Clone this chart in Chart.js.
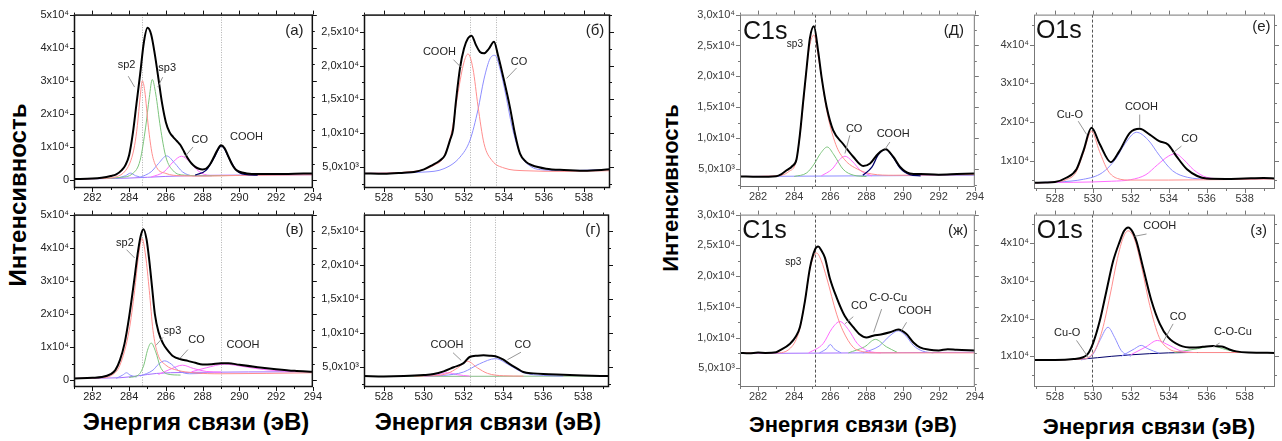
<!DOCTYPE html>
<html><head><meta charset="utf-8">
<script src="https://cdn.jsdelivr.net/npm/chart.js@4.4.1/dist/chart.umd.min.js"></script>
<style>
body{margin:0;background:#fff;width:1282px;height:441px;position:relative;overflow:hidden;font-family:"Liberation Sans",Arial,sans-serif}
canvas{position:absolute}
.lab{position:absolute;font-weight:bold;white-space:nowrap;color:#000;line-height:1}
</style></head><body>
<div class="lab" style="left:18px;top:195px;font-size:24px;transform:translate(-50%,-50%) rotate(-90deg)">Интенсивность</div>
<div class="lab" style="left:671px;top:188px;font-size:22px;transform:translate(-50%,-50%) rotate(-90deg)">Интенсивность</div>
<div class="lab" style="left:196px;top:410px;font-size:24px;transform:translateX(-50%)">Энергия связи (эВ)</div>
<div class="lab" style="left:488px;top:410px;font-size:24px;transform:translateX(-50%)">Энергия связи (эВ)</div>
<div class="lab" style="left:853px;top:414px;font-size:22px;transform:translateX(-50%)">Энергия связи (эВ)</div>
<div class="lab" style="left:1149px;top:416px;font-size:22.5px;transform:translateX(-50%)">Энергия связи (эВ)</div>
<script>
// ---------- tick values / labels ----------
const xTicksC = [282,284,286,288,290,292,294];
const xTicksO = [528,530,532,534,536,538];
const yTicksA = [0,10000,20000,30000,40000,50000];
const yLabelsA = ['0','1x10⁴','2x10⁴','3x10⁴','4x10⁴','5x10⁴'];
const yTicksB = [5000,10000,15000,20000,25000];
const yLabelsB = ['5,0x10³','1,0x10⁴','1,5x10⁴','2,0x10⁴','2,5x10⁴'];
const yTicksD = [5000,10000,15000,20000,25000,30000];
const yLabelsD = ['5,0x10³','1,0x10⁴','1,5x10⁴','2,0x10⁴','2,5x10⁴','3,0x10⁴'];
const yTicksE = [10000,20000,30000,40000];
const yLabelsE = ['1x10⁴','2x10⁴','3x10⁴','4x10⁴'];

// ---------- panel (а) C1s ----------
const aTotal = [[281,300],[282,450],[282.5,700],[283,1200],[283.3,1700],[283.6,3000],[283.8,4500],[284,7500],[284.2,14000],[284.4,23000],[284.6,32000],[284.8,41500],[285,46000],[285.2,44000],[285.4,38000],[285.6,30500],[285.8,23000],[286,17500],[286.2,14500],[286.4,13000],[286.6,11800],[286.8,10500],[287,8500],[287.2,6500],[287.4,5000],[287.6,4000],[287.8,3400],[288,3200],[288.2,3500],[288.4,4700],[288.6,6800],[288.8,9000],[289,10500],[289.2,9600],[289.4,7200],[289.6,4800],[289.8,3200],[290,2500],[290.4,2000],[291,1800],[292,1800],[293,1900],[294,2000]];
const aSp2 = [[281,300],[282.5,500],[283.3,1000],[283.8,2800],[284.1,6000],[284.3,10500],[284.45,16500],[284.6,25000],[284.72,30000],[284.85,27000],[285.05,16000],[285.25,8000],[285.5,3800],[286,2000],[286.8,1300],[288,1200],[290,1400],[294,1600]];
const aSp3 = [[282,400],[283.5,800],[284.2,2000],[284.6,6000],[284.9,16000],[285.1,25000],[285.26,30400],[285.45,26000],[285.7,16000],[286,7000],[286.4,2800],[287,1500],[288,1300],[290,1400]];
const aBlue = [[284.6,800],[285.2,2500],[285.6,5000],[286.04,7300],[286.5,5000],[286.9,2500],[287.5,1300],[288.5,1300]];
const aMag = [[285.2,900],[285.9,2500],[286.4,5500],[286.85,7200],[287.3,5500],[287.8,2600],[288.4,1400],[289.5,1400]];
const aSmall = [[283.3,500],[283.8,1300],[284.08,2100],[284.35,1300],[284.8,700]];
const aCOOH = [[287.6,1500],[288.2,3000],[288.6,6500],[289.03,10300],[289.45,6500],[289.8,3200],[290.3,1700],[291,1500]];
const aBase = [[281,300],[284,600],[286,1100],[288,1400],[294,1600]];

// ---------- panel (в) C1s ----------
const bTotal = [[281,500],[282,700],[282.5,900],[283,1800],[283.25,3000],[283.5,6000],[283.75,11000],[284,19000],[284.25,29000],[284.5,39500],[284.65,44000],[284.78,45600],[284.95,42500],[285.1,36000],[285.25,28000],[285.4,20000],[285.6,14500],[285.85,11000],[286.1,9000],[286.4,7200],[286.8,6300],[287.2,5800],[287.6,5200],[288,4700],[288.5,4800],[289,5100],[289.4,5100],[290,4600],[291,3900],[292,3300],[293,2800],[294,2500]];
const bSp2 = [[281,500],[282.5,700],[283,1300],[283.5,4500],[284,15000],[284.3,27000],[284.5,37000],[284.7,42800],[284.9,37500],[285.1,27000],[285.3,15000],[285.55,8000],[286,4500],[286.6,3000],[287.5,2200],[289,1900],[294,2200]];
const bSp3 = [[284,800],[284.5,1500],[284.8,4500],[285,9000],[285.2,11200],[285.45,8500],[285.7,4000],[286.1,1800],[286.8,1500]];
const bBlue = [[284.6,1200],[285.3,3000],[285.6,4800],[285.93,5800],[286.3,4800],[286.7,2800],[287.3,1900],[288,2000]];
const bSmall = [[283.3,500],[283.65,1500],[283.86,2200],[284.05,1500],[284.4,900]];
const bMag = [[285.6,1700],[286.3,3400],[286.9,4500],[287.5,3500],[288.2,2600],[289,2400]];
const bCOOH = [[287.4,2500],[288.2,3700],[289.2,4800],[290.2,4100],[291.3,3200],[292.5,2700],[294,2500]];
const bBase = [[281,500],[283.5,700],[284.5,1300],[285.5,2000],[287,2300],[294,2500]];

// ---------- panel (б) O1s ----------
const cTotal = [[527,4100],[528,4050],[529,4200],[529.5,4300],[530,4700],[530.4,5300],[530.8,6000],[531.05,6800],[531.3,9000],[531.45,10500],[531.6,14800],[531.8,19600],[532,22500],[532.2,24000],[532.38,24400],[532.6,23000],[532.8,22000],[533,21800],[533.25,22500],[533.5,23500],[533.7,21500],[533.97,18200],[534.3,13800],[534.55,9900],[534.8,7000],[535.1,5800],[535.4,5300],[536.1,4800],[537,4600],[538,4500],[539.3,4700]];
const cCOOH = [[527,4100],[529.5,4400],[530.5,5300],[531,6600],[531.4,10500],[531.7,16000],[532,20500],[532.2,21700],[532.45,19500],[532.7,14000],[533,8500],[533.4,6000],[534,4900],[535,4500],[537,4400],[539.3,4500]];
const cCO = [[527,4100],[530,4300],[531,4800],[531.8,6500],[532.3,9000],[532.7,13500],[533,18000],[533.3,21000],[533.55,21500],[533.8,19500],[534.1,15500],[534.4,11000],[534.8,7000],[535.3,5200],[536,4600],[537,4500],[539.3,4700]];

// ---------- panel (г) O1s ----------
const dTotal = [[527,3700],[528,3650],[529,3700],[530,3850],[530.5,4000],[531,4400],[531.5,5000],[532,5600],[532.3,6500],[532.7,6700],[533,6750],[533.3,6700],[533.6,6600],[534,6100],[534.3,5500],[534.7,4800],[535,4300],[535.5,4100],[536,4000],[537,3900],[538,3800],[539.3,3700]];
const dCOOH = [[529.5,3700],[530.5,3750],[531.2,4100],[531.7,4900],[532.2,5870],[532.7,4900],[533.2,4100],[534,3750],[535,3700]];
const dCO = [[530,3700],[531,3800],[532,4300],[532.8,5500],[533.6,6260],[534.3,5300],[535,4200],[536,3800],[537,3700]];
const dMag = [[530,3700],[530.7,3900],[531.2,4200],[531.7,3900],[532.3,3700]];
const dBase = [[527,3650],[539.3,3700]];

// ---------- panel (Д) C1s ----------
const eTotal = [[281,3800],[282,3750],[283,3850],[283.3,4200],[283.58,4800],[283.9,5500],[284.13,6600],[284.32,10700],[284.5,16000],[284.69,21400],[284.87,26200],[285.09,28100],[285.33,24000],[285.52,19800],[285.8,15000],[286.16,11250],[286.7,9100],[287.27,7000],[287.82,5500],[288.2,5900],[288.65,7500],[289.07,8200],[289.48,7000],[289.85,5400],[290.4,4300],[291,4200],[292,4100],[293,4200],[294,4300]];
const eSp3 = [[281,3800],[283,3900],[283.7,4600],[284.1,6200],[284.3,10000],[284.5,15500],[284.8,24000],[285.09,26700],[285.4,22000],[285.8,14500],[286.3,9000],[286.8,6500],[287.5,5000],[288.3,4200],[289.5,4000],[294,4100]];
const eGreen = [[284,3800],[284.7,4400],[285.1,5800],[285.45,7500],[285.83,8570],[286.2,7300],[286.7,5000],[287.3,4000],[288,3800]];
const eCO = [[285.5,3900],[286.1,5000],[286.5,6500],[286.81,7080],[287.2,6300],[287.7,4700],[288.3,3900]];
const eCOOH = [[287.8,4000],[288.3,5300],[288.65,7300],[289.07,8200],[289.48,6900],[289.85,5200],[290.4,4100],[291,3900]];
const eBase = [[281,3800],[294,4000]];

// ---------- panel (ж) C1s ----------
const fTotal = [[281,7500],[281.5,7450],[282,7550],[282.4,7500],[283,7600],[283.2,7900],[283.77,9000],[284.1,10200],[284.32,11700],[284.6,16000],[284.87,21300],[285.15,24300],[285.33,24800],[285.5,24200],[285.7,23000],[285.97,19700],[286.35,16500],[286.8,13500],[287.27,11700],[287.64,10500],[288,10000],[288.37,10300],[288.8,10500],[289.3,10850],[289.76,11300],[290.2,10600],[290.6,9200],[290.96,8400],[291.5,8000],[292,7900],[292.5,8100],[293,8000],[294,7900]];
const fSp3 = [[281,7500],[283,7500],[283.8,8300],[284.3,11300],[284.6,16000],[284.9,21500],[285.24,23750],[285.5,22500],[285.8,19700],[286.35,13800],[286.7,11100],[287.27,8400],[287.8,7700],[288.5,7500],[294,7500]];
const fSmall = [[285.4,7500],[285.8,8200],[286,8870],[286.2,8200],[286.6,7500]];
const fCO = [[284.8,7500],[285.6,9000],[286.1,11500],[286.53,12600],[287,11300],[287.5,9000],[288.1,7800],[288.8,7500]];
const fCOCu = [[287,7500],[287.9,8500],[288.5,9700],[289.1,8500],[289.7,7600]];
const fCOOH = [[287.8,7500],[288.7,8600],[289.3,10300],[289.76,11100],[290.2,10200],[290.6,8700],[291.1,7800],[291.7,7500]];
const fBase = [[281,7400],[294,7600]];

// ---------- panel (е) O1s ----------
const gTotal = [[526.9,4400],[527.5,4450],[528,4600],[528.6,5700],[529.14,7900],[529.5,12560],[529.93,18540],[530.37,14300],[530.95,9700],[531.4,12560],[531.95,17260],[532.47,18280],[533,16800],[533.5,15100],[533.96,14280],[534.4,11280],[534.96,7870],[535.5,6150],[536,5500],[537,5400],[538,5500],[539,5600],[539.6,5500]];
const gCuO = [[526.9,4400],[528,4600],[528.6,5200],[529.1,7000],[529.5,12000],[529.93,17700],[530.35,12500],[530.8,7500],[531.3,5500],[532,5100],[534,5100],[539.6,5400]];
const gCOOH = [[526.9,4400],[529.5,5300],[530.5,7000],[531.2,10500],[531.7,14500],[532.3,17400],[532.9,15500],[533.5,11500],[534.2,7500],[535,5800],[536,5400],[539.6,5500]];
const gCO = [[527,4400],[531,4800],[532,5200],[532.8,6500],[533.4,9000],[534,11300],[534.35,11870],[534.8,10300],[535.3,7800],[536,5800],[537,5400],[539.6,5500]];

// ---------- panel (з) O1s ----------
const hTotal = [[526.9,9000],[528,9000],[529,9300],[529.67,10260],[530,13300],[530.37,19470],[530.72,27400],[531.07,35260],[531.42,40500],[531.65,43300],[531.86,44200],[532.1,43000],[532.3,40500],[532.65,33500],[533.09,24740],[533.53,18600],[533.96,15080],[534.58,12900],[535.3,12300],[535.8,12500],[536.33,12700],[536.8,12600],[537.2,11800],[537.56,11300],[538.2,11000],[539.6,10900]];
const hCOOH = [[526.9,9000],[529.5,9300],[530.1,11500],[530.5,17000],[530.9,26000],[531.3,36000],[531.6,41500],[531.86,43300],[532.2,41000],[532.6,33000],[533,23500],[533.5,15000],[534,12000],[534.5,11200],[535.5,11000],[539.6,11000]];
const hCuO = [[529.4,9000],[530,10500],[530.4,14500],[530.8,17700],[531.15,15000],[531.5,11500],[532,10000]];
const hBlue2 = [[531.5,10000],[532.2,12000],[532.55,12900],[532.9,12000],[533.5,10800]];
const hCO = [[532,10400],[532.8,12500],[533.4,14200],[533.9,13200],[534.6,11500],[535.3,11000]];
const hCOCu = [[534.3,11000],[535.5,12000],[536.3,12700],[537,11800],[537.8,11000]];
const hBase = [[526.9,9000],[529.5,9300],[531,10000],[533,10700],[535,11000],[539.6,11000]];

// ---------- styles ----------
const COL = {black:'#000000', red:'#ff8e8e', green:'#7cc47c', blue:'#8e8eff', mag:'#ff6cff', navy:'#00006a', base:'#a46eff', green2:'#88bb88'};
const FONT = '"Liberation Sans", Arial, sans-serif';

const panels = [
 {box:[74,13,313,188], x:[281,294], y:[-2400,50000], xt:xTicksC, yt:yTicksA, yl:yLabelsA, yMinor:5000, left:true,
  series:[[aTotal,'black',2],[aCOOH,'navy',1.3],[aSp2,'red',1],[aSp3,'green',1],[aBlue,'blue',1],[aMag,'mag',1],[aSmall,'blue',1],[aBase,'base',1]],
  vlines:[284.7,289.0],
  notes:[{t:'sp2',x:283.86,y:34700,from:[283.95,31400],to:[284.3,28100]},{t:'sp3',x:286.07,y:33900,from:[285.83,31100],to:[285.56,28100]},
         {t:'CO',x:287.85,y:12200,from:[287.48,10000],to:[287.03,7000]},{t:'COOH',x:290.39,y:13000},{t:'(а)',x:293.0,y:45200,s:15}]},
 {box:[74,213,313,387], x:[281,294], y:[-2100,50000], xt:xTicksC, yt:yTicksA, yl:yLabelsA, yMinor:5000, left:true,
  series:[[bTotal,'black',2],[bSp2,'red',1],[bSp3,'green',1],[bBlue,'blue',1],[bSmall,'blue',1],[bMag,'mag',1],[bCOOH,'mag',1],[bBase,'base',1]],
  vlines:[284.7,289.0],
  notes:[{t:'sp2',x:283.77,y:41300,from:[283.86,39400],to:[284.3,36900]},{t:'sp3',x:286.36,y:14700,from:[285.85,12900],to:[285.46,10500]},
         {t:'CO',x:287.67,y:12000,from:[287.2,9200],to:[286.76,6500]},{t:'COOH',x:290.2,y:10500},{t:'(в)',x:293.0,y:45300,s:15}]},
 {box:[364,13,610,188], x:[527,539.3], y:[1950,27500], xt:xTicksO, yt:yTicksB, yl:yLabelsB, yMinor:2500, left:true,
  series:[[cTotal,'black',2],[cCOOH,'red',1],[cCO,'blue',1]],
  vlines:[532.3,533.6],
  notes:[{t:'COOH',x:530.77,y:21930,from:[531.47,20870],to:[531.88,19640]},{t:'CO',x:534.75,y:20470,from:[534.63,19640],to:[534.13,18100]},{t:'(б)',x:538.55,y:25100,s:15}]},
 {box:[364,213,609,387], x:[527,539.3], y:[2100,27400], xt:xTicksO, yt:yTicksB, yl:yLabelsB, yMinor:2500, left:true,
  series:[[dTotal,'black',2],[dCOOH,'red',1],[dCO,'blue',1],[dMag,'mag',1],[dBase,'green2',1]],
  vlines:[532.3,533.6],
  notes:[{t:'COOH',x:531.17,y:8330,from:[531.47,7130],to:[531.88,6000]},{t:'CO',x:534.97,y:8330,from:[534.88,7200],to:[534.2,6100]},{t:'(г)',x:538.5,y:25100,s:15}]},
 {box:[740,13,975,187], x:[281,294], y:[2100,30000], xt:xTicksC, yt:yTicksD, yl:yLabelsD, yMinor:2500, left:false,
  series:[[eTotal,'black',2],[eCOOH,'navy',1.3],[eSp3,'red',1],[eGreen,'green',1],[eCO,'mag',1],[eBase,'blue',1]],
  vlines:[285.15],
  notes:[{t:'C1s',x:281.17,y:26000,s:25,al:'left',bl:'alphabetic',c:'#111'},{t:'sp3',x:284.04,y:25140,s:10},{t:'(Д)',x:292.84,y:27390,s:15},
         {t:'CO',x:287.32,y:11520,from:[287.08,10450],to:[286.81,7520]},{t:'COOH',x:289.48,y:10610,from:[289.3,9380],to:[289.02,8200]}]},
 {box:[740,213,975,387], x:[281,294], y:[1950,30000], xt:xTicksC, yt:yTicksD, yl:yLabelsD, yMinor:2500, left:false,
  series:[[fTotal,'black',2],[fSp3,'red',1],[fSmall,'blue',1],[fCO,'mag',1],[fCOCu,'green',1],[fCOOH,'blue',1],[fBase,'base',1]],
  vlines:[285.15],
  notes:[{t:'C1s',x:281.12,y:26180,s:25,al:'left',bl:'alphabetic',c:'#111'},{t:'sp3',x:283.95,y:22260,s:10},{t:'(ж)',x:293.07,y:27370,s:15},
         {t:'CO',x:287.6,y:15160,from:[287.27,13390],to:[286.8,12200]},{t:'C-O-Cu',x:289.2,y:16400,from:[288.84,14630],to:[288.4,10850]},
         {t:'COOH',x:290.68,y:14240,from:[290.22,12470],to:[289.94,11130]}]},
 {box:[1034,13,1275,189], x:[526.9,539.6], y:[2800,47700], xt:xTicksO, yt:yTicksE, yl:yLabelsE, yMinor:5000, left:false,
  series:[[gTotal,'black',2],[gCuO,'red',1],[gCOOH,'blue',1],[gCO,'mag',1]],
  vlines:[529.95],
  notes:[{t:'O1s',x:527.0,y:41600,s:25,al:'left',bl:'alphabetic',c:'#111'},{t:'(е)',x:538.88,y:44600,s:15},
         {t:'Cu-O',x:528.79,y:21970,from:[529.23,20260],to:[529.67,16850]},{t:'COOH',x:532.56,y:23850,from:[532.47,21970],to:[532.47,18540]},
         {t:'CO',x:535.1,y:15560,from:[534.67,13850],to:[534.23,12130]}]},
 {box:[1034,213,1275,387], x:[526.9,539.6], y:[1850,47600], xt:xTicksO, yt:yTicksE, yl:yLabelsE, yMinor:5000, left:false,
  series:[[hTotal,'black',2],[hCOOH,'red',1],[hCuO,'blue',1],[hBlue2,'blue',1],[hCO,'mag',1],[hCOCu,'green',1],[hBase,'navy',1]],
  vlines:[529.95],
  notes:[{t:'O1s',x:527.05,y:41400,s:25,al:'left',bl:'alphabetic',c:'#111'},{t:'(з)',x:538.74,y:43340,s:15},
         {t:'COOH',x:533.53,y:44470,from:[532.83,42450],to:[532.2,41840]},{t:'Cu-O',x:528.65,y:16130,from:[529.14,14210],to:[529.75,9800]},
         {t:'CO',x:534.49,y:20530,from:[534.23,18600],to:[533.7,13760]},{t:'C-O-Cu',x:537.38,y:16400,from:[536.68,13500],to:[536.33,12450]}]}
];

const PADL = 72, PADT = 10, PADR = 12, PADB = 22;

function makeDeco(p) {
  return {
    id: 'deco',
    beforeDatasetsDraw(chart) {
      const {ctx, chartArea: ca, scales: {x}} = chart;
      ctx.save();
      ctx.beginPath(); ctx.rect(ca.left, ca.top, ca.right - ca.left, ca.bottom - ca.top); ctx.clip();
      ctx.strokeStyle = p.left ? '#b0b0b0' : '#555';
      ctx.setLineDash(p.left ? [1, 1.5] : [3, 2]);
      ctx.lineWidth = 1;
      p.vlines.forEach(v => {
        const px = Math.round(x.getPixelForValue(v)) + 0.5;
        ctx.beginPath(); ctx.moveTo(px, ca.top); ctx.lineTo(px, ca.bottom); ctx.stroke();
      });
      ctx.restore();
    },
    afterDraw(chart) {
      const {ctx, chartArea: ca, scales: {x, y}} = chart;
      ctx.save();
      ctx.setLineDash([]);
      ctx.strokeStyle = p.left ? '#111' : '#777';
      ctx.lineWidth = p.left ? 1.5 : 1;
      ctx.strokeRect(ca.left + 0.5, ca.top + 0.5, ca.right - ca.left - 1, ca.bottom - ca.top - 1);
      ctx.lineWidth = 1;
      for (let v = Math.ceil(p.x[0]); v <= p.x[1] + 1e-9; v += 1) {
        const L = p.xt.includes(v) ? 4 : 2;
        const px = Math.round(x.getPixelForValue(v)) + 0.5;
        ctx.beginPath();
        ctx.moveTo(px, ca.bottom); ctx.lineTo(px, ca.bottom + L);
        ctx.moveTo(px, ca.top); ctx.lineTo(px, ca.top - L);
        ctx.stroke();
      }
      for (let v = Math.ceil(p.y[0] / p.yMinor) * p.yMinor; v <= p.y[1] + 1e-9; v += p.yMinor) {
        const L = p.yt.includes(v) ? 4 : 2;
        const py = Math.round(y.getPixelForValue(v)) + 0.5;
        ctx.beginPath();
        ctx.moveTo(ca.left, py); ctx.lineTo(ca.left - L, py);
        ctx.moveTo(ca.right, py); ctx.lineTo(ca.right + L, py);
        ctx.stroke();
      }
      p.notes.forEach(n => {
        if (n.from) {
          ctx.strokeStyle = '#8a8a8a'; ctx.lineWidth = 0.9;
          ctx.beginPath();
          ctx.moveTo(x.getPixelForValue(n.from[0]), y.getPixelForValue(n.from[1]));
          ctx.lineTo(x.getPixelForValue(n.to[0]), y.getPixelForValue(n.to[1]));
          ctx.stroke();
        }
        ctx.font = (n.s || 11) + 'px ' + FONT;
        ctx.textAlign = n.al || 'center';
        ctx.textBaseline = n.bl || 'middle';
        ctx.fillStyle = n.c || '#222';
        ctx.fillText(n.t, x.getPixelForValue(n.x), y.getPixelForValue(n.y));
      });
      ctx.restore();
    }
  };
}

panels.forEach(p => {
  const [L, T, R, B] = p.box;
  const cv = document.createElement('canvas');
  const W = (R - L) + PADL + PADR, H = (B - T) + PADT + PADB;
  cv.width = W; cv.height = H;
  cv.style.left = (L - PADL) + 'px'; cv.style.top = (T - PADT) + 'px';
  cv.style.width = W + 'px'; cv.style.height = H + 'px';
  document.body.appendChild(cv);
  const tickCol = p.left ? '#222' : '#3a3a3a';
  new Chart(cv, {
    type: 'line',
    data: {
      datasets: p.series.map(([pts, col, w]) => ({
        data: pts.map(q => ({x: q[0], y: q[1]})),
        borderColor: COL[col], borderWidth: w, pointRadius: 0, fill: false,
        cubicInterpolationMode: 'monotone', tension: 0.4
      }))
    },
    options: {
      responsive: false, animation: false, devicePixelRatio: 1,
      layout: {padding: {left: 0, top: PADT, right: PADR, bottom: 0}, autoPadding: false},
      plugins: {legend: {display: false}, tooltip: {enabled: false}},
      scales: {
        x: {type: 'linear', min: p.x[0], max: p.x[1],
            grid: {display: false, drawTicks: false, tickLength: 0}, border: {display: false},
            afterFit: s => { s.height = PADB; },
            afterBuildTicks: s => { s.ticks = p.xt.map(v => ({value: v})); },
            ticks: {padding: 3, color: tickCol, font: {family: FONT, size: 11}, maxRotation: 0, autoSkip: false,
                    callback: v => String(v)}},
        y: {type: 'linear', min: p.y[0], max: p.y[1],
            grid: {display: false, drawTicks: false, tickLength: 0}, border: {display: false},
            afterFit: s => { s.width = PADL; },
            afterBuildTicks: s => { s.ticks = p.yt.map(v => ({value: v})); },
            ticks: {padding: 5, color: tickCol, font: {family: FONT, size: 11}, autoSkip: false,
                    callback: v => p.yl[p.yt.indexOf(v)]}}
      }
    },
    plugins: [makeDeco(p)]
  });
});
</script>
</body></html>
